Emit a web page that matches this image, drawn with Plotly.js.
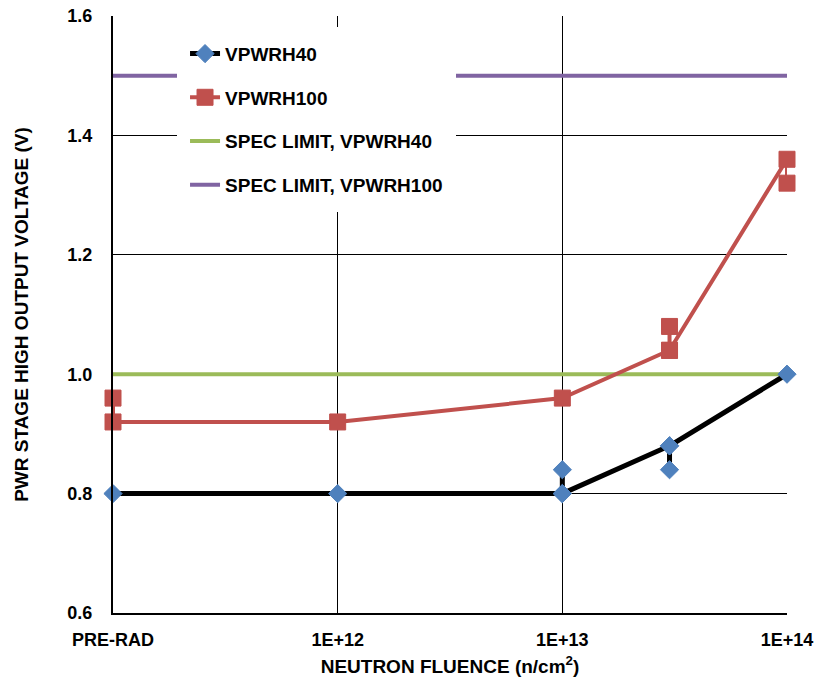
<!DOCTYPE html>
<html>
<head>
<meta charset="utf-8">
<script src="https://cdn.plot.ly/plotly-3.0.1.min.js"></script>
<style>html,body{margin:0;padding:0;background:#fff;}#chart{width:814px;height:680px;}</style>
</head>
<body>
<div id="chart"></div>
<script>
// Tick positions (fluence, n/cm^2); PRE-RAD placed one decade below 1E+12
const tickVals = [1e11, 1e12, 1e13, 1e14];
const tickText = ["PRE-RAD", "1E+12", "1E+13", "1E+14"];

// VPWRH40 measurements (path order as drawn, including repeated units)
const vpwrh40X = [1e11, 1e12, 1e13, 1e13, 1e13, 3e13, 3e13, 3e13, 1e14];
const vpwrh40Y = [0.80, 0.80, 0.80, 0.84, 0.80, 0.88, 0.84, 0.88, 1.00];

// VPWRH100 measurements
const vpwrh100X = [1e11, 1e11, 1e12, 1e13, 3e13, 3e13, 3e13, 1e14, 1e14];
const vpwrh100Y = [0.96, 0.92, 0.92, 0.96, 1.04, 1.08, 1.04, 1.36, 1.32];

// Spec limits
const specX = [1e11, 1e14];
const spec40Y = [1.0, 1.0];
const spec100Y = [1.5, 1.5];

const FONT = "Liberation Sans, Arial, sans-serif";

const traces = [
  {x: specX, y: spec40Y, mode: "lines", name: "SPEC LIMIT, VPWRH40",
   line: {color: "#9BBB59", width: 4}, legendgroup: "c", legendrank: 3, cliponaxis: false},
  {x: specX, y: spec100Y, mode: "lines", name: "SPEC LIMIT, VPWRH100",
   line: {color: "#8064A2", width: 4}, legendgroup: "d", legendrank: 4, cliponaxis: false},
  {x: vpwrh100X, y: vpwrh100Y, mode: "lines+markers", name: "VPWRH100",
   line: {color: "#C0504D", width: 4},
   marker: {symbol: "square", size: 16, color: "#C0504D", line: {color: "#C0504D", width: 1}},
   legendgroup: "b", legendrank: 2, cliponaxis: false},
  {x: vpwrh40X, y: vpwrh40Y, mode: "lines+markers", name: "VPWRH40",
   line: {color: "#000000", width: 5},
   marker: {symbol: "diamond", size: 14, color: "#4F81BD", line: {color: "#4F81BD", width: 1}},
   legendgroup: "a", legendrank: 1, cliponaxis: false}
];

const layout = {
  width: 814, height: 680,
  margin: {l: 113, r: 27, t: 16, b: 67},
  paper_bgcolor: "#fff", plot_bgcolor: "#fff",
  font: {family: FONT, color: "#000", size: 18},
  showlegend: true,
  legend: {
    x: 0.095, y: 0.982, xanchor: "left", yanchor: "top",
    bgcolor: "#ffffff", bordercolor: "#ffffff", borderwidth: 8,
    font: {family: FONT, size: 19, color: "#000", weight: "bold"},
    tracegroupgap: 16, traceorder: "grouped"
  },
  xaxis: {
    type: "log", range: [11, 14],
    tickvals: tickVals, ticktext: tickText,
    showgrid: true, gridcolor: "#000", gridwidth: 1,
    showline: true, linecolor: "#000", linewidth: 2,
    ticks: "", ticklabelstandoff: 9,
    tickfont: {family: FONT, size: 18, weight: "bold"},
    zeroline: false,
    title: {text: "NEUTRON FLUENCE (n/cm<sup>2</sup>)", font: {family: FONT, size: 19, weight: "bold"}, standoff: 11}
  },
  yaxis: {
    range: [0.6, 1.6], dtick: 0.2, tick0: 0.6, tickformat: ".1f",
    showgrid: true, gridcolor: "#000", gridwidth: 1,
    showline: true, linecolor: "#000", linewidth: 2,
    ticks: "", ticklabelstandoff: 15,
    tickfont: {family: FONT, size: 18, weight: "bold"},
    zeroline: false,
    title: {text: "PWR STAGE HIGH OUTPUT VOLTAGE (V)", font: {family: FONT, size: 19, weight: "bold"}, standoff: 34}
  }
};

Plotly.newPlot("chart", traces, layout, {displayModeBar: false, staticPlot: true});
</script>
</body>
</html>
